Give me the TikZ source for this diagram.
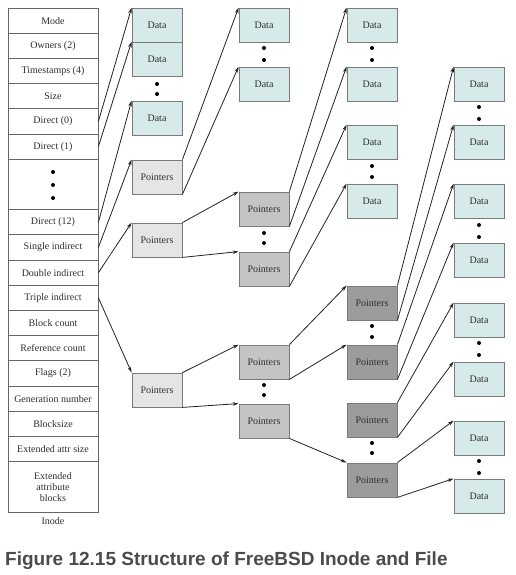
\documentclass[tikz,border=0pt]{standalone}
\usepackage{fontspec}
\setmainfont{Liberation Serif}
\newfontfamily\capfont{Liberation Sans}
\usetikzlibrary{arrows.meta}
\definecolor{datafill}{HTML}{D6EAEA}
\definecolor{ptrlight}{HTML}{E5E5E5}
\definecolor{ptrmid}{HTML}{C4C4C4}
\definecolor{ptrdark}{HTML}{9C9C9C}
\definecolor{boxline}{HTML}{7A7A7A}
\definecolor{cellline}{HTML}{666666}
\definecolor{txt}{HTML}{2E2E2E}
\definecolor{arrline}{HTML}{222222}
\definecolor{capcol}{HTML}{4B4B4B}
\begin{document}
\begin{tikzpicture}[x=1bp,y=-1bp, font=\fontsize{10bp}{11bp}\selectfont,
  box/.style={draw=boxline, line width=0.8bp, minimum width=50bp, minimum height=34bp, inner sep=0pt, text=txt},
  datab/.style={box, fill=datafill},
  ptra/.style={box, fill=ptrlight},
  ptrb/.style={box, fill=ptrmid},
  ptrc/.style={box, fill=ptrdark},
  cell/.style={draw=cellline, line width=0.8bp, minimum width=90bp, minimum height=25.2bp, inner sep=0pt, text=txt},
  arr/.style={-{Stealth[length=6bp,width=3.6bp]}, line width=0.8bp, draw=arrline},
  dotn/.style={circle, fill=black, inner sep=0pt, minimum size=4bp}]
\useasboundingbox (0,0) rectangle (516,575);
% inode table
\node[cell] (mode) at (53,20.6) {Mode};
\node[cell] (own) at (53,45.8) {Owners (2)};
\node[cell] (ts) at (53,71) {Timestamps (4)};
\node[cell] (size) at (53,96.2) {Size};
\node[cell] (dz) at (53,121.4) {Direct (0)};
\node[cell] (done) at (53,146.6) {Direct (1)};
\node[cell, minimum height=50.4bp] (dgap) at (53,184.4) {};
\node[cell] (dtw) at (53,222.2) {Direct (12)};
\node[cell] (sing) at (53,247.4) {Single indirect};
\node[cell] (dbl) at (53,272.6) {Double indirect};
\node[cell] (trp) at (53,297.8) {Triple indirect};
\node[cell] (blk) at (53,323) {Block count};
\node[cell] (ref) at (53,348.2) {Reference count};
\node[cell] (flg) at (53,373.4) {Flags (2)};
\node[cell] (gen) at (53,398.6) {Generation number};
\node[cell] (bsz) at (53,423.8) {Blocksize};
\node[cell] (eas) at (53,449) {Extended attr size};
\node[cell, minimum height=50.4bp, align=center] (eab) at (53,486.8) {Extended\\attribute\\blocks};
\node[text=txt] (inl) at (53,521) {Inode};
\node[dotn] (ia) at (53,172) {};
\node[dotn] (ib) at (53,185) {};
\node[dotn] (ic) at (53,198) {};
% column 1
\node[datab] (d11) at (157,25) {Data};
\node[datab] (d12) at (157,59) {Data};
\node[datab] (d13) at (157,118) {Data};
\node[ptra] (p1a) at (157,177) {Pointers};
\node[ptra] (p1b) at (157,240) {Pointers};
\node[ptra] (p1c) at (157,390) {Pointers};
% column 2
\node[datab] (d21) at (264,25) {Data};
\node[datab] (d22) at (264,84) {Data};
\node[ptrb] (p2a) at (264,209) {Pointers};
\node[ptrb] (p2b) at (264,269) {Pointers};
\node[ptrb] (p2c) at (264,362) {Pointers};
\node[ptrb] (p2d) at (264,421) {Pointers};
% column 3
\node[datab] (d31) at (372,25) {Data};
\node[datab] (d32) at (372,84) {Data};
\node[datab] (d33) at (372,142) {Data};
\node[datab] (d34) at (372,201) {Data};
\node[ptrc] (p3a) at (372,303) {Pointers};
\node[ptrc] (p3b) at (372,362) {Pointers};
\node[ptrc] (p3c) at (372,420) {Pointers};
\node[ptrc] (p3d) at (372,480) {Pointers};
% column 4
\node[datab] (d41) at (479,84) {Data};
\node[datab] (d42) at (479,142) {Data};
\node[datab] (d43) at (479,201) {Data};
\node[datab] (d44) at (479,260) {Data};
\node[datab] (d45) at (479,320) {Data};
\node[datab] (d46) at (479,379) {Data};
\node[datab] (d47) at (479,438) {Data};
\node[datab] (d48) at (479,496) {Data};
% dots
\node[dotn] (c1a) at (157,84) {};
\node[dotn] (c1b) at (157,94) {};
\node[dotn] (c2a) at (264,48) {};
\node[dotn] (c2b) at (264,60) {};
\node[dotn] (c2c) at (264,233) {};
\node[dotn] (c2d) at (264,243) {};
\node[dotn] (c2e) at (264,385) {};
\node[dotn] (c2f) at (264,395) {};
\node[dotn] (c3a) at (372,48) {};
\node[dotn] (c3b) at (372,60) {};
\node[dotn] (c3c) at (372,166) {};
\node[dotn] (c3d) at (372,177) {};
\node[dotn] (c3e) at (372,326) {};
\node[dotn] (c3f) at (372,337) {};
\node[dotn] (c3g) at (372,443) {};
\node[dotn] (c3h) at (372,453) {};
\node[dotn] (c4a) at (479,107) {};
\node[dotn] (c4b) at (479,119) {};
\node[dotn] (c4c) at (479,225) {};
\node[dotn] (c4d) at (479,237) {};
\node[dotn] (c4e) at (479,343) {};
\node[dotn] (c4f) at (479,355) {};
\node[dotn] (c4g) at (479,461) {};
\node[dotn] (c4h) at (479,473) {};
% arrows from inode
\draw[arr] (dz.east) -- (d11.north west);
\draw[arr] (done.east) -- (d12.north west);
\draw[arr] (dtw.east) -- (d13.north west);
\draw[arr] (sing.east) -- (p1a.north west);
\draw[arr] (dbl.east) -- (p1b.north west);
\draw[arr] (trp.east) -- (p1c.north west);
% column 1 pointers
\draw[arr] (p1a.north east) -- (d21.north west);
\draw[arr] (p1a.south east) -- (d22.north west);
\draw[arr] (p1b.north east) -- (p2a.north west);
\draw[arr] (p1b.south east) -- (p2b.north west);
\draw[arr] (p1c.north east) -- (p2c.north west);
\draw[arr] (p1c.south east) -- (p2d.north west);
% column 2 pointers
\draw[arr] (p2a.north east) -- (d31.north west);
\draw[arr] (p2a.south east) -- (d32.north west);
\draw[arr] (p2b.north east) -- (d33.north west);
\draw[arr] (p2b.south east) -- (d34.north west);
\draw[arr] (p2c.north east) -- (p3a.north west);
\draw[arr] (p2c.south east) -- (p3b.north west);
\draw[arr] (p2d.south east) -- (p3d.north west);
% column 3 pointers
\draw[arr] (p3a.north east) -- (d41.north west);
\draw[arr] (p3a.south east) -- (d42.north west);
\draw[arr] (p3b.north east) -- (d43.north west);
\draw[arr] (p3b.south east) -- (d44.north west);
\draw[arr] (p3c.north east) -- (d45.north west);
\draw[arr] (p3c.south east) -- (d46.north west);
\draw[arr] (p3d.north east) -- (d47.north west);
\draw[arr] (p3d.south east) -- (d48.north west);
% caption
\node[anchor=base west, inner sep=0pt, text=capcol, font=\capfont\bfseries\fontsize{19bp}{22bp}\selectfont] (cap) at (5,565) {Figure 12.15 Structure of FreeBSD Inode and File};
\end{tikzpicture}
\end{document}
